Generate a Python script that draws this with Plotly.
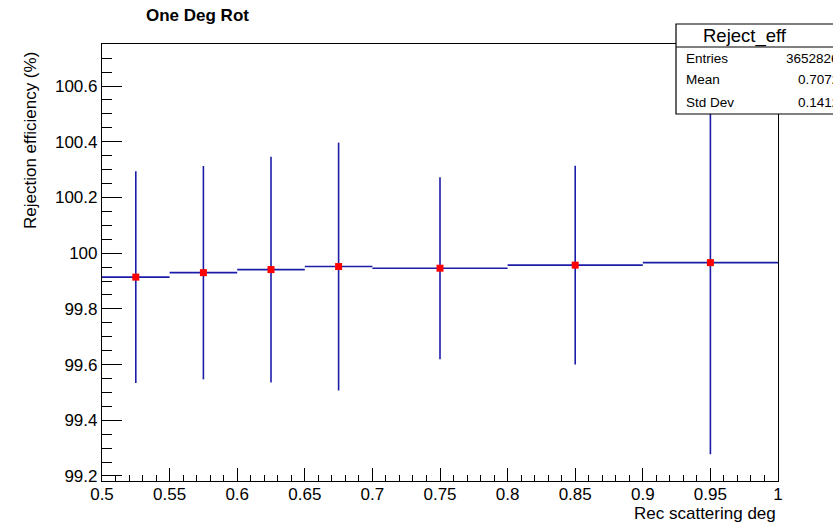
import plotly.graph_objects as go

# Bin layout of the rejection-efficiency histogram (variable width bins)
bin_low = [0.50, 0.55, 0.60, 0.65, 0.70, 0.80, 0.90]
bin_high = [0.55, 0.60, 0.65, 0.70, 0.80, 0.90, 1.00]
efficiency = [99.914, 99.930, 99.941, 99.952, 99.946, 99.957, 99.966]
eff_error = [0.380, 0.383, 0.405, 0.445, 0.327, 0.357, 0.688]

stats_labels = ["Entries", "Mean", "Std Dev"]
stats_values = ["3652826", "0.7072", "0.1412"]

centers = [(a + b) / 2 for a, b in zip(bin_low, bin_high)]
half_w = [(b - a) / 2 for a, b in zip(bin_low, bin_high)]

W, H = 833, 525
ML, MR, MT, MB = 102, 55, 44, 44
PW, PH = W - ML - MR, H - MT - MB


def px(x):
    return (x - ML) / PW


def py(y):
    return (H - MB - y) / PH


FONT = "Liberation Sans, Arial, Helvetica, sans-serif"
BLUE = "#1c1ca8"

fig = go.Figure()
fig.add_trace(go.Scatter(
    x=centers, y=efficiency, mode="markers",
    marker=dict(symbol="square", size=7, color="#ff0000", line=dict(width=0)),
    error_x=dict(type="data", array=half_w, width=0, color=BLUE, thickness=1.6),
    error_y=dict(type="data", array=eff_error, width=0, color=BLUE, thickness=1.6),
    showlegend=False, cliponaxis=True,
))

axis_common = dict(
    showline=True, linecolor="black", linewidth=1.2, mirror=True,
    ticks="inside", tickcolor="black", tickwidth=1.2,
    showgrid=False, zeroline=False,
    tickfont=dict(family=FONT, size=17, color="black"),
)

fig.update_xaxes(
    range=[0.5, 1.0], tick0=0.5, dtick=0.05, ticklen=13, ticklabelstandoff=-3,
    minor=dict(dtick=0.01, ticks="inside", ticklen=6, tickcolor="black", tickwidth=1.2),
    **axis_common,
)
fig.update_yaxes(
    range=[99.182, 100.751], tick0=99.2, dtick=0.2, ticklen=20,
    minor=dict(dtick=0.05, ticks="inside", ticklen=10, tickcolor="black", tickwidth=1.2),
    **axis_common,
)

shapes = []
annotations = []

# Title
annotations.append(dict(
    x=px(197), y=py(16), xref="paper", yref="paper",
    text="<b>One Deg Rot</b>", showarrow=False,
    font=dict(family=FONT, size=17, color="black"),
    xanchor="center", yanchor="middle",
))
# Axis titles
annotations.append(dict(
    x=px(778), y=py(513), xref="paper", yref="paper",
    text="Rec scattering deg", showarrow=False,
    font=dict(family=FONT, size=17, color="black"),
    xanchor="right", yanchor="middle",
))
annotations.append(dict(
    x=px(30), y=py(141), xref="paper", yref="paper",
    text="Rejection efficiency (%)", showarrow=False, textangle=-90,
    font=dict(family=FONT, size=17, color="black"),
    xanchor="center", yanchor="middle",
))

# Statistics box (its right part runs past the page edge)
box_l, box_t, box_b, box_r = 676, 24, 114, 900
shapes.append(dict(type="rect", xref="paper", yref="paper",
                   x0=px(box_l), x1=px(box_r), y0=py(box_b), y1=py(box_t),
                   line=dict(color="black", width=1.2), fillcolor="white", layer="above"))
shapes.append(dict(type="line", xref="paper", yref="paper",
                   x0=px(box_l), x1=px(box_r), y0=py(47), y1=py(47),
                   line=dict(color="black", width=1.2), layer="above"))
annotations.append(dict(
    x=px(745), y=py(35.5), xref="paper", yref="paper",
    text="Reject_eff", showarrow=False,
    font=dict(family=FONT, size=18.5, color="black"),
    xanchor="center", yanchor="middle",
))
row_y = [58, 80, 102]
for lab, val, yy in zip(stats_labels, stats_values, row_y):
    annotations.append(dict(
        x=px(684), y=py(yy), xref="paper", yref="paper",
        text=lab, showarrow=False,
        font=dict(family=FONT, size=13.5, color="black"),
        xanchor="left", yanchor="middle",
    ))
    annotations.append(dict(
        x=px(841), y=py(yy), xref="paper", yref="paper",
        text=val, showarrow=False,
        font=dict(family=FONT, size=13.5, color="black"),
        xanchor="right", yanchor="middle",
    ))

fig.update_layout(
    width=W, height=H,
    margin=dict(l=ML, r=MR, t=MT, b=MB),
    paper_bgcolor="white", plot_bgcolor="white",
    shapes=shapes, annotations=annotations,
    font=dict(family=FONT, color="black"),
)

fig.write_html("out.html")
